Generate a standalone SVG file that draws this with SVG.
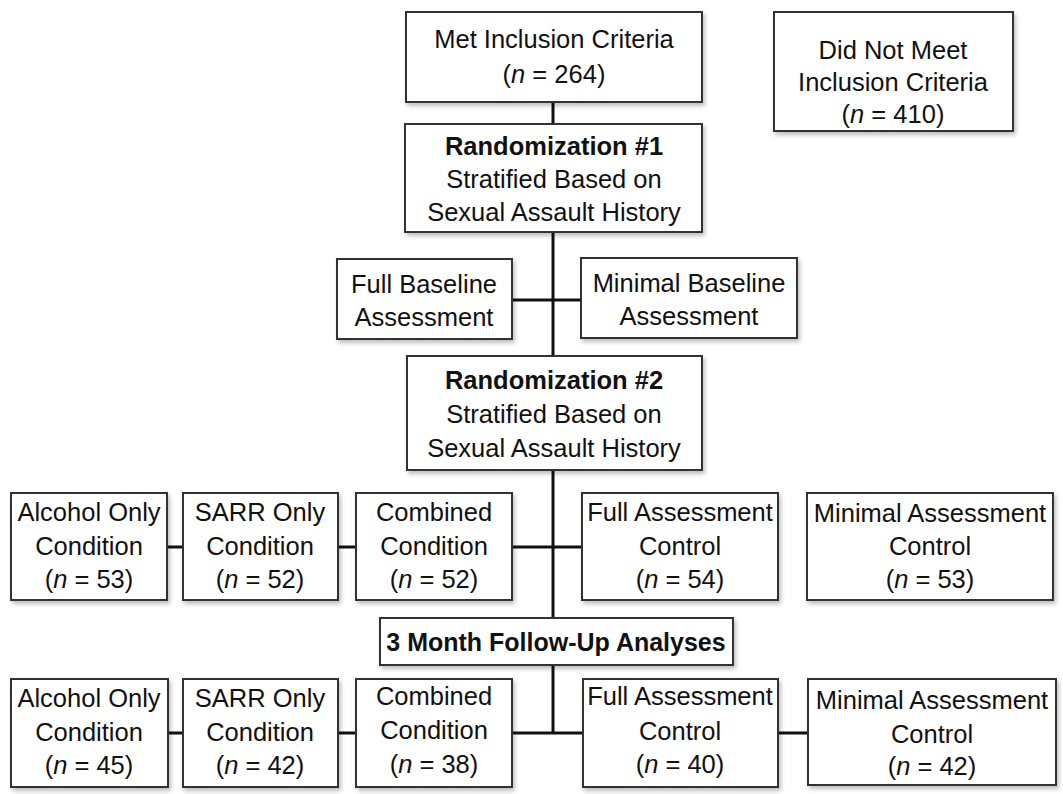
<svg xmlns="http://www.w3.org/2000/svg" width="1063" height="794" viewBox="0 0 1063 794">
<defs>
<filter id="sh" x="-5%" y="-5%" width="115%" height="120%">
<feDropShadow dx="2" dy="3" stdDeviation="2" flood-color="#000" flood-opacity="0.25"/>
</filter>
<style>
.box{fill:#fff;stroke:#333;stroke-width:2;filter:url(#sh)}
.t{font-family:"Liberation Sans",Arial,sans-serif;font-size:25.5px;fill:#111;text-anchor:middle}
.b{font-weight:bold}
.i{font-style:italic}
.c{stroke:#111;stroke-width:3;fill:none}
</style>
</defs>
<rect width="1063" height="794" fill="#fff"/>
<g id="connectors">
<path class="c" d="M553 102V618M553 665V733"/>
<path class="c" d="M512 300H581"/>
<path class="c" d="M167 547H183M338 547H356M512 547H582"/>
<path class="c" d="M168 733H183M338 733H356M512 733H583M778 733H808"/>
</g>
<g id="met">
<rect class="box" x="406" y="12" width="296" height="90"/>
<text class="t" x="554" y="48">Met Inclusion Criteria</text>
<text class="t" x="554" y="83">(<tspan class="i">n</tspan> = 264)</text>
</g>
<g id="notmet">
<rect class="box" x="774" y="12" width="239" height="119"/>
<text class="t" x="893" y="59">Did Not Meet</text>
<text class="t" x="893" y="91">Inclusion Criteria</text>
<text class="t" x="893" y="123">(<tspan class="i">n</tspan> = 410)</text>
</g>
<g id="rand1">
<rect class="box" x="405" y="124" width="297" height="108"/>
<text class="t b" x="554" y="155">Randomization #1</text>
<text class="t" x="554" y="188">Stratified Based on</text>
<text class="t" x="554" y="221">Sexual Assault History</text>
</g>
<g id="fullbase">
<rect class="box" x="337" y="259" width="175" height="80"/>
<text class="t" x="424" y="293">Full Baseline</text>
<text class="t" x="424" y="326">Assessment</text>
</g>
<g id="minbase">
<rect class="box" x="581" y="258" width="216" height="80"/>
<text class="t" x="689" y="292">Minimal Baseline</text>
<text class="t" x="689" y="325">Assessment</text>
</g>
<g id="rand2">
<rect class="box" x="407" y="356" width="295" height="114"/>
<text class="t b" x="554" y="389">Randomization #2</text>
<text class="t" x="554" y="423">Stratified Based on</text>
<text class="t" x="554" y="457">Sexual Assault History</text>
</g>
<g id="alc1">
<rect class="box" x="11" y="493" width="156" height="107"/>
<text class="t" x="89" y="521">Alcohol Only</text>
<text class="t" x="89" y="555">Condition</text>
<text class="t" x="89" y="588">(<tspan class="i">n</tspan> = 53)</text>
</g>
<g id="sarr1">
<rect class="box" x="183" y="493" width="155" height="107"/>
<text class="t" x="260" y="521">SARR Only</text>
<text class="t" x="260" y="555">Condition</text>
<text class="t" x="260" y="588">(<tspan class="i">n</tspan> = 52)</text>
</g>
<g id="comb1">
<rect class="box" x="356" y="493" width="156" height="107"/>
<text class="t" x="434" y="521">Combined</text>
<text class="t" x="434" y="555">Condition</text>
<text class="t" x="434" y="588">(<tspan class="i">n</tspan> = 52)</text>
</g>
<g id="full1">
<rect class="box" x="582" y="493" width="196" height="107"/>
<text class="t" x="680" y="521">Full Assessment</text>
<text class="t" x="680" y="555">Control</text>
<text class="t" x="680" y="588">(<tspan class="i">n</tspan> = 54)</text>
</g>
<g id="min1">
<rect class="box" x="807" y="493" width="246" height="107"/>
<text class="t" x="930" y="522">Minimal Assessment</text>
<text class="t" x="930" y="555">Control</text>
<text class="t" x="930" y="588">(<tspan class="i">n</tspan> = 53)</text>
</g>
<g id="followup">
<rect class="box" x="380" y="618" width="353" height="47"/>
<text class="t b" x="556" y="651" style="font-size:25px">3 Month Follow-Up Analyses</text>
</g>
<g id="alc2">
<rect class="box" x="11" y="679" width="157" height="108"/>
<text class="t" x="89" y="707">Alcohol Only</text>
<text class="t" x="89" y="741">Condition</text>
<text class="t" x="89" y="774">(<tspan class="i">n</tspan> = 45)</text>
</g>
<g id="sarr2">
<rect class="box" x="183" y="679" width="155" height="108"/>
<text class="t" x="260" y="707">SARR Only</text>
<text class="t" x="260" y="741">Condition</text>
<text class="t" x="260" y="774">(<tspan class="i">n</tspan> = 42)</text>
</g>
<g id="comb2">
<rect class="box" x="356" y="679" width="156" height="108"/>
<text class="t" x="434" y="705">Combined</text>
<text class="t" x="434" y="739">Condition</text>
<text class="t" x="434" y="773">(<tspan class="i">n</tspan> = 38)</text>
</g>
<g id="full2">
<rect class="box" x="583" y="679" width="195" height="108"/>
<text class="t" x="680" y="705">Full Assessment</text>
<text class="t" x="680" y="740">Control</text>
<text class="t" x="680" y="773">(<tspan class="i">n</tspan> = 40)</text>
</g>
<g id="min2">
<rect class="box" x="808" y="679" width="248" height="106"/>
<text class="t" x="932" y="709">Minimal Assessment</text>
<text class="t" x="932" y="743">Control</text>
<text class="t" x="932" y="775">(<tspan class="i">n</tspan> = 42)</text>
</g>
</svg>
